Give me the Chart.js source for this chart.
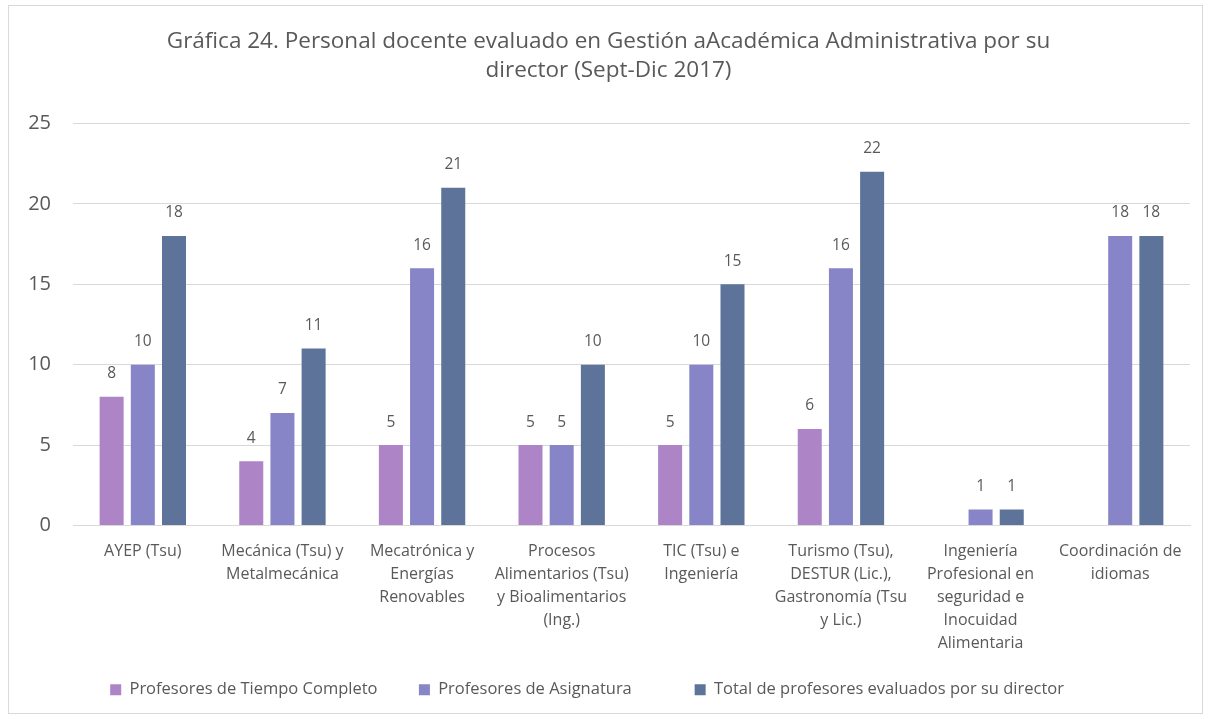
<!DOCTYPE html>
<html>
<head>
<meta charset="utf-8">
<script src="https://cdn.jsdelivr.net/npm/chart.js@4"></script>
<style>
  html, body { margin: 0; padding: 0; background: #fff; }
  #wrap {
    position: absolute; left: 8px; top: 5px; width: 1195px; height: 709px;
    border: 1px solid #d9d9d9; box-sizing: border-box;
  }
</style>
</head>
<body>
<div id="wrap"><canvas id="chart"></canvas></div>
<script>
var categories = [
  "AYEP (Tsu)",
  ["Mecánica (Tsu) y", "Metalmecánica"],
  ["Mecatrónica y", "Energías", "Renovables"],
  ["Procesos", "Alimentarios (Tsu)", "y Bioalimentarios", "(Ing.)"],
  ["TIC (Tsu) e", "Ingeniería"],
  ["Turismo (Tsu),", "DESTUR (Lic.),", "Gastronomía (Tsu", "y Lic.)"],
  ["Ingeniería", "Profesional en", "seguridad e", "Inocuidad", "Alimentaria"],
  ["Coordinación de", "idiomas"]
];
var tiempoCompleto = [8, 4, 5, 5, 5, 6, null, null];
var asignatura = [10, 7, 16, 5, 10, 16, 1, 18];
var totalEvaluados = [18, 11, 21, 10, 15, 22, 1, 18];
var seriesNames = ["Profesores de Tiempo Completo", "Profesores de Asignatura", "Total de profesores evaluados por su director"];
var titleLines = ["Gráfica 24. Personal docente evaluado en Gestión aAcadémica Administrativa por su", "director (Sept-Dic 2017)"];

var fontFamily = "'Open Sans', sans-serif";
var textColor = "#595959";
// extra space after each legend entry, to spread them like the original
var legendGaps = [5, 10, 10];

// draws the value above each bar
var barLabels = {
  id: "barLabels",
  afterDatasetsDraw: function(chart) {
    var ctx = chart.ctx;
    ctx.save();
    ctx.fillStyle = textColor;
    ctx.font = "15.5px " + fontFamily;
    ctx.textAlign = "center";
    ctx.textBaseline = "middle";
    chart.data.datasets.forEach(function(ds, i) {
      var meta = chart.getDatasetMeta(i);
      meta.data.forEach(function(bar, j) {
        var v = ds.data[j];
        if (v === null || v === undefined) return;
        ctx.fillText(String(v), bar.x, bar.y - 23);
      });
    });
    ctx.restore();
  }
};

new Chart(document.getElementById("chart"), {
  type: "bar",
  data: {
    labels: categories,
    datasets: [
      { label: seriesNames[0], data: tiempoCompleto, backgroundColor: "#AD84C6" },
      { label: seriesNames[1], data: asignatura, backgroundColor: "#8784C7" },
      { label: seriesNames[2], data: totalEvaluados, backgroundColor: "#5D739A" }
    ]
  },
  options: {
    responsive: true,
    maintainAspectRatio: false,
    animation: false,
    categoryPercentage: 0.67,
    barPercentage: 0.77,
    layout: { padding: { left: 18, right: 12, top: 21, bottom: 5 } },
    plugins: {
      title: {
        display: true,
        text: titleLines,
        color: textColor,
        font: { size: 22.5, family: fontFamily, weight: "normal", lineHeight: 1.3 },
        padding: { top: 0, bottom: 38 }
      },
      legend: {
        position: "bottom",
        labels: {
          color: textColor,
          font: { size: 16.5, family: fontFamily },
          boxWidth: 11,
          boxHeight: 11,
          padding: 20,
          generateLabels: function(chart) {
            var items = Chart.defaults.plugins.legend.labels.generateLabels(chart);
            items.forEach(function(it, i) {
              it.text = it.text + " ".repeat(legendGaps[i]);
            });
            return items;
          }
        }
      },
      tooltip: { enabled: false }
    },
    scales: {
      x: {
        grid: { display: false },
        border: { color: "#d9d9d9" },
        ticks: {
          color: textColor,
          font: { size: 16, family: fontFamily, lineHeight: 1.45 },
          padding: 6,
          maxRotation: 0,
          autoSkip: false
        }
      },
      y: {
        min: 0,
        max: 25,
        grid: { color: "#d9d9d9", drawTicks: false },
        border: { display: false },
        afterFit: function(axis) { axis.width = 46; },
        ticks: {
          stepSize: 5,
          color: textColor,
          font: { size: 20, family: fontFamily },
          padding: 22
        }
      }
    }
  },
  plugins: [barLabels]
});
</script>
</body>
</html>
